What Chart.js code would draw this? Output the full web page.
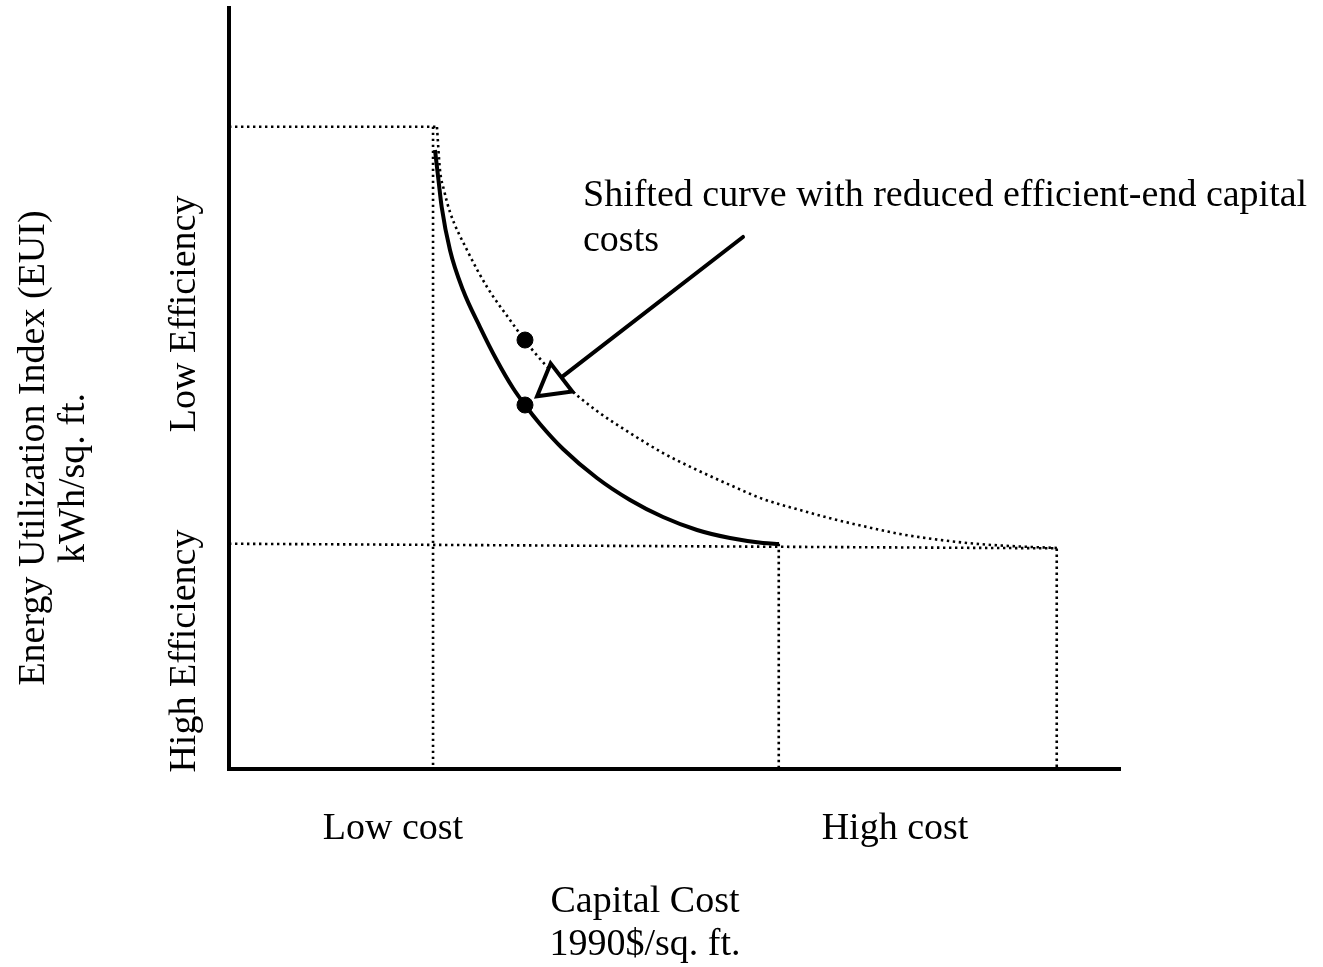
<!DOCTYPE html>
<html>
<head>
<meta charset="utf-8">
<title>Capital Cost vs EUI</title>
<script src="https://cdn.jsdelivr.net/npm/chart.js@4.4.1/dist/chart.umd.min.js"></script>
<style>
  html, body { margin: 0; padding: 0; background: #fff; overflow: hidden; }
  #wrap { width: 1323px; height: 967px; position: relative; }
</style>
</head>
<body>
<div id="wrap"><canvas id="grafico"></canvas></div>
<script>
/** 1. DATOS (ejes relativos 0-100: costo de capital, EUI) **/
const costTicks = [18.4, 74.75];
const costTickLabels = ["Low cost", "High cost"];
const effTicks = [59.8, 15.5];
const effTickLabels = ["Low Efficiency", "High Efficiency"];

const tituloX = ["Capital Cost", "1990$/sq. ft."];
const tituloY = ["Energy Utilization Index (EUI)", "kWh/sq. ft."];
const textoNota = ["Shifted curve with reduced efficient-end capital", "costs"];

// curva original (punteada)
const curvaBase = [
  [23.34, 84.36], [23.68, 78.71], [24.13, 76.08], [24.80, 73.19], [26.71, 68.20],
  [28.96, 63.34], [31.54, 59.00], [33.78, 55.45], [37.49, 50.72], [41.30, 47.04],
  [45.01, 44.15], [48.71, 41.52], [52.53, 39.29], [56.23, 37.32], [59.93, 35.48],
  [64.09, 34.03], [67.79, 32.85], [71.61, 31.80], [75.31, 30.88], [79.01, 30.22],
  [82.83, 29.70], [86.53, 29.37], [92.93, 29.04]
];
// curva desplazada (sólida)
const curvaNueva = [
  [23.12, 81.34], [23.51, 77.40], [23.87, 73.85], [24.80, 68.20], [26.26, 62.94],
  [28.17, 58.08], [30.04, 53.75], [31.87, 50.07], [33.22, 47.83], [34.90, 45.34],
  [37.49, 42.05], [41.30, 38.24], [45.01, 35.35], [48.71, 33.11], [52.53, 31.41],
  [56.23, 30.35], [59.93, 29.70], [61.73, 29.57]
];

const guiaBajoCosto = [[0, 84.4], [23.3, 84.4]];
const verticalBajoCosto = [[22.9, 84.4], [22.9, 0]];
const guiaAltaEficiencia = [[0, 29.6], [92.9, 29.0], [92.9, 0]];
const verticalCurvaNueva = [[61.7, 29.6], [61.7, 0]];

const puntos = [[33.22, 56.37], [33.22, 47.83]];
const flecha = [[57.69, 69.91], [36.40, 50.63]];

const FUENTE = "38px 'Liberation Serif', 'Times New Roman', serif";
const xy = arr => arr.map(([x, y]) => ({ x, y }));

/** 2. TEXTOS (rotulos girados, titulos y nota) **/
const textos = {
  id: "textos",
  afterDraw(chart) {
    const { ctx, chartArea: a, scales: { y } } = chart;
    ctx.save();
    ctx.fillStyle = "#000";
    ctx.font = FUENTE;
    ctx.textBaseline = "alphabetic";

    const girado = (txt, px, py) => {
      ctx.save();
      ctx.translate(px, py);
      ctx.rotate(-Math.PI / 2);
      ctx.textAlign = "center";
      ctx.fillText(txt, 0, 0);
      ctx.restore();
    };
    effTicks.forEach((v, i) => girado(effTickLabels[i], a.left - 34, y.getPixelForValue(v)));
    girado(tituloY[0], 44, 448);
    girado(tituloY[1], 84, 478);

    ctx.textAlign = "center";
    ctx.fillText(tituloX[0], 645, 912);
    ctx.fillText(tituloX[1], 645, 955);

    ctx.textAlign = "left";
    ctx.fillText(textoNota[0], 583, 206);
    ctx.fillText(textoNota[1], 583, 251);
    ctx.restore();
  }
};

/** 3. GRAFICO **/
const punteado = { borderColor: "#000", borderWidth: 2.6, borderDash: [2.4, 3.6], pointRadius: 0, showLine: true, fill: false, order: 2 };

new Chart(document.getElementById("grafico"), {
  type: "scatter",
  data: {
    datasets: [
      { data: xy(flecha), showLine: true, borderColor: "#000", borderWidth: 4, borderCapStyle: "round",
        pointRadius: [0, 20.5], pointStyle: "triangle", pointRotation: [0, 232.4],
        pointBackgroundColor: "#fff", pointBorderColor: "#000", pointBorderWidth: 4, order: 0 },
      { data: xy(puntos), pointRadius: 8, pointBackgroundColor: "#000", pointBorderColor: "#000", order: 1 },
      { data: xy(curvaNueva), showLine: true, borderColor: "#000", borderWidth: 4, pointRadius: 0,
        cubicInterpolationMode: "monotone", order: 1 },
      { ...punteado, data: xy(curvaBase), cubicInterpolationMode: "monotone" },
      { ...punteado, data: xy(guiaBajoCosto) },
      { ...punteado, data: xy(verticalBajoCosto) },
      { ...punteado, data: xy(guiaAltaEficiencia) },
      { ...punteado, data: xy(verticalCurvaNueva) }
    ]
  },
  options: {
    responsive: true,
    maintainAspectRatio: false,
    animation: false,
    events: [],
    layout: { autoPadding: false, padding: { top: 8, right: 203, left: 0, bottom: 0 } },
    plugins: { legend: { display: false }, tooltip: { enabled: false } },
    scales: {
      x: {
        type: "linear", min: 0, max: 100,
        grid: { display: false, drawTicks: false },
        border: { display: true, color: "#000", width: 4 },
        afterBuildTicks: s => { s.ticks = costTicks.map(v => ({ value: v })); },
        afterFit: s => { s.height = 198; },
        ticks: {
          autoSkip: false, maxRotation: 0, padding: 37, color: "#000",
          font: { family: "'Liberation Serif', 'Times New Roman', serif", size: 38 },
          callback: (v, i) => costTickLabels[i]
        }
      },
      y: {
        type: "linear", min: 0, max: 100,
        grid: { display: false, drawTicks: false },
        border: { display: true, color: "#000", width: 4 },
        ticks: { display: false },
        afterFit: s => { s.width = 229; }
      }
    }
  },
  plugins: [textos]
});
</script>
</body>
</html>
